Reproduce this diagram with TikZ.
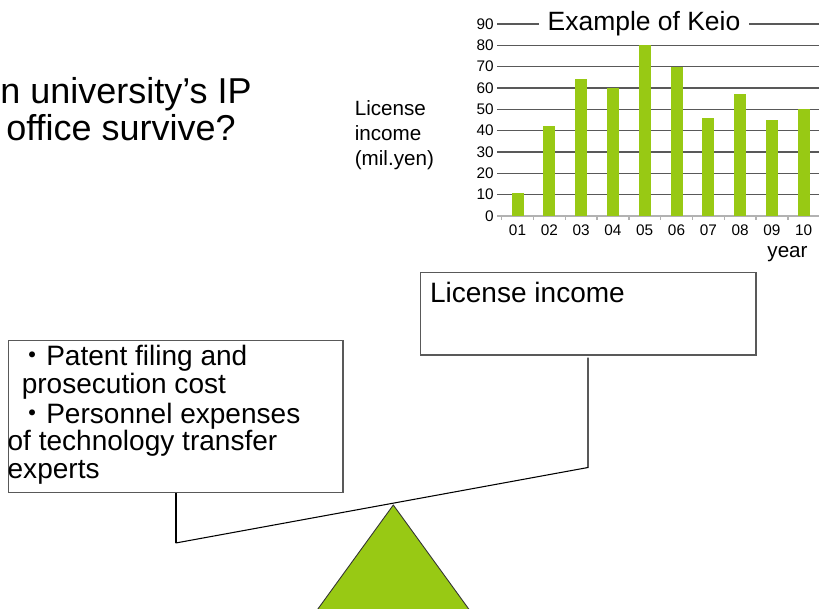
\documentclass[tikz,border=0pt]{standalone}
\usepackage{fontspec}
\setmainfont{Liberation Sans}
\newfontfamily\cjkfont{Noto Sans CJK JP}
\usetikzlibrary{fit}
\definecolor{keiogreen}{RGB}{152,201,20}

\begin{document}
\begin{tikzpicture}[x=0.567pt, y=-0.567pt,
    panel/.style={draw=black!65, line width=0.8pt, inner sep=0pt},
    hanger/.style={draw=black, line width=0.6pt},
    gridline/.style={draw=black!65, line width=0.8pt}]

  \path[use as bounding box] (0,0) rectangle (819,608);

  \begin{scope}[every node/.style={inner sep=0pt, anchor=base west, font=\fontsize{20.4}{20.4}\selectfont}]
    \node (q1) at (0,103.3) {n university’s IP};
    \node (q2) at (6,140) {office survive?};
  \end{scope}

  \foreach \v in {10,20,...,90}
    \draw[gridline] (497,{216-2.1333*\v}) -- (819,{216-2.1333*\v});
  \draw[black!30, line width=0.8pt] (497,216) -- (819,216);
  \foreach \k in {0,...,9}
    \draw[black!30, line width=0.8pt] ({501.6+31.8*\k},216) -- ++(0,4);
  \foreach \v [count=\i] in {11,42,64,60,80,70,46,57,45,50}
    \fill[keiogreen] ({511.5+31.8*(\i-1)},216) rectangle ++(12,{-2.1333*\v});

  \begin{scope}[every node/.style={inner sep=0pt, font=\fontsize{8.7}{8.7}\selectfont}]
    \foreach \v in {0,10,...,90}
      \node[anchor=east] (tick\v) at (494,{216-2.1333*\v}) {\v};
    \foreach \n [count=\i] in {01,02,03,04,05,06,07,08,09,10}
      \node (yr\n) at ({517.5+31.8*(\i-1)},230) {\n};
  \end{scope}

  \node[fill=white, inner xsep=5pt, inner ysep=1pt, anchor=base, font=\fontsize{15}{15}\selectfont] (charttitle) at (644,30) {Example of Keio};
  \node[inner sep=0pt, font=\fontsize{11.7}{11.7}\selectfont] (yearlabel) at (787.5,254) {year};
  \node[inner sep=0pt, anchor=north west, align=left, font=\fontsize{11.7}{14.2}\selectfont] (unit) at (354.5,100) {License\\income\\(mil.yen)};

  \node[panel, fit={(420.7,272.3) (756,355)}] (lic) {};
  \node[panel, fit={(8.3,340.7) (343,492.7)}] (cost) {};

  \begin{scope}[every node/.style={inner sep=0pt, anchor=north west, align=left, font=\fontsize{15.9}{15.6}\selectfont}]
    \node (lictext) at (429.7,281.6) {License income};
    \node (costtext) at (7.3,345) {\hspace*{6pt}{\cjkfont ・}Patent filing and\\
      \hspace*{8pt}prosecution cost\\[1.5pt]
      \hspace*{6pt}{\cjkfont ・}Personnel expenses\\
      of technology transfer\\
      experts};
  \end{scope}

  \coordinate (lend) at (175.7,543);
  \coordinate (rend) at (588,467.5);
  \coordinate (rtop) at (588,357.5);
  \coordinate (pivot) at (393.3,505);

  \begin{scope}
    \clip (0,0) rectangle (819,608);
    \filldraw[fill=keiogreen, draw=black!80, line width=0.5pt] (pivot) -- (309.9,620) -- (476.7,620) -- cycle;
  \end{scope}

  \draw[hanger, line width=1pt] (cost.south -| lend) -- (lend);
  \draw[hanger] (lend) -- (rend) -- (rtop);

\end{tikzpicture}
\end{document}
